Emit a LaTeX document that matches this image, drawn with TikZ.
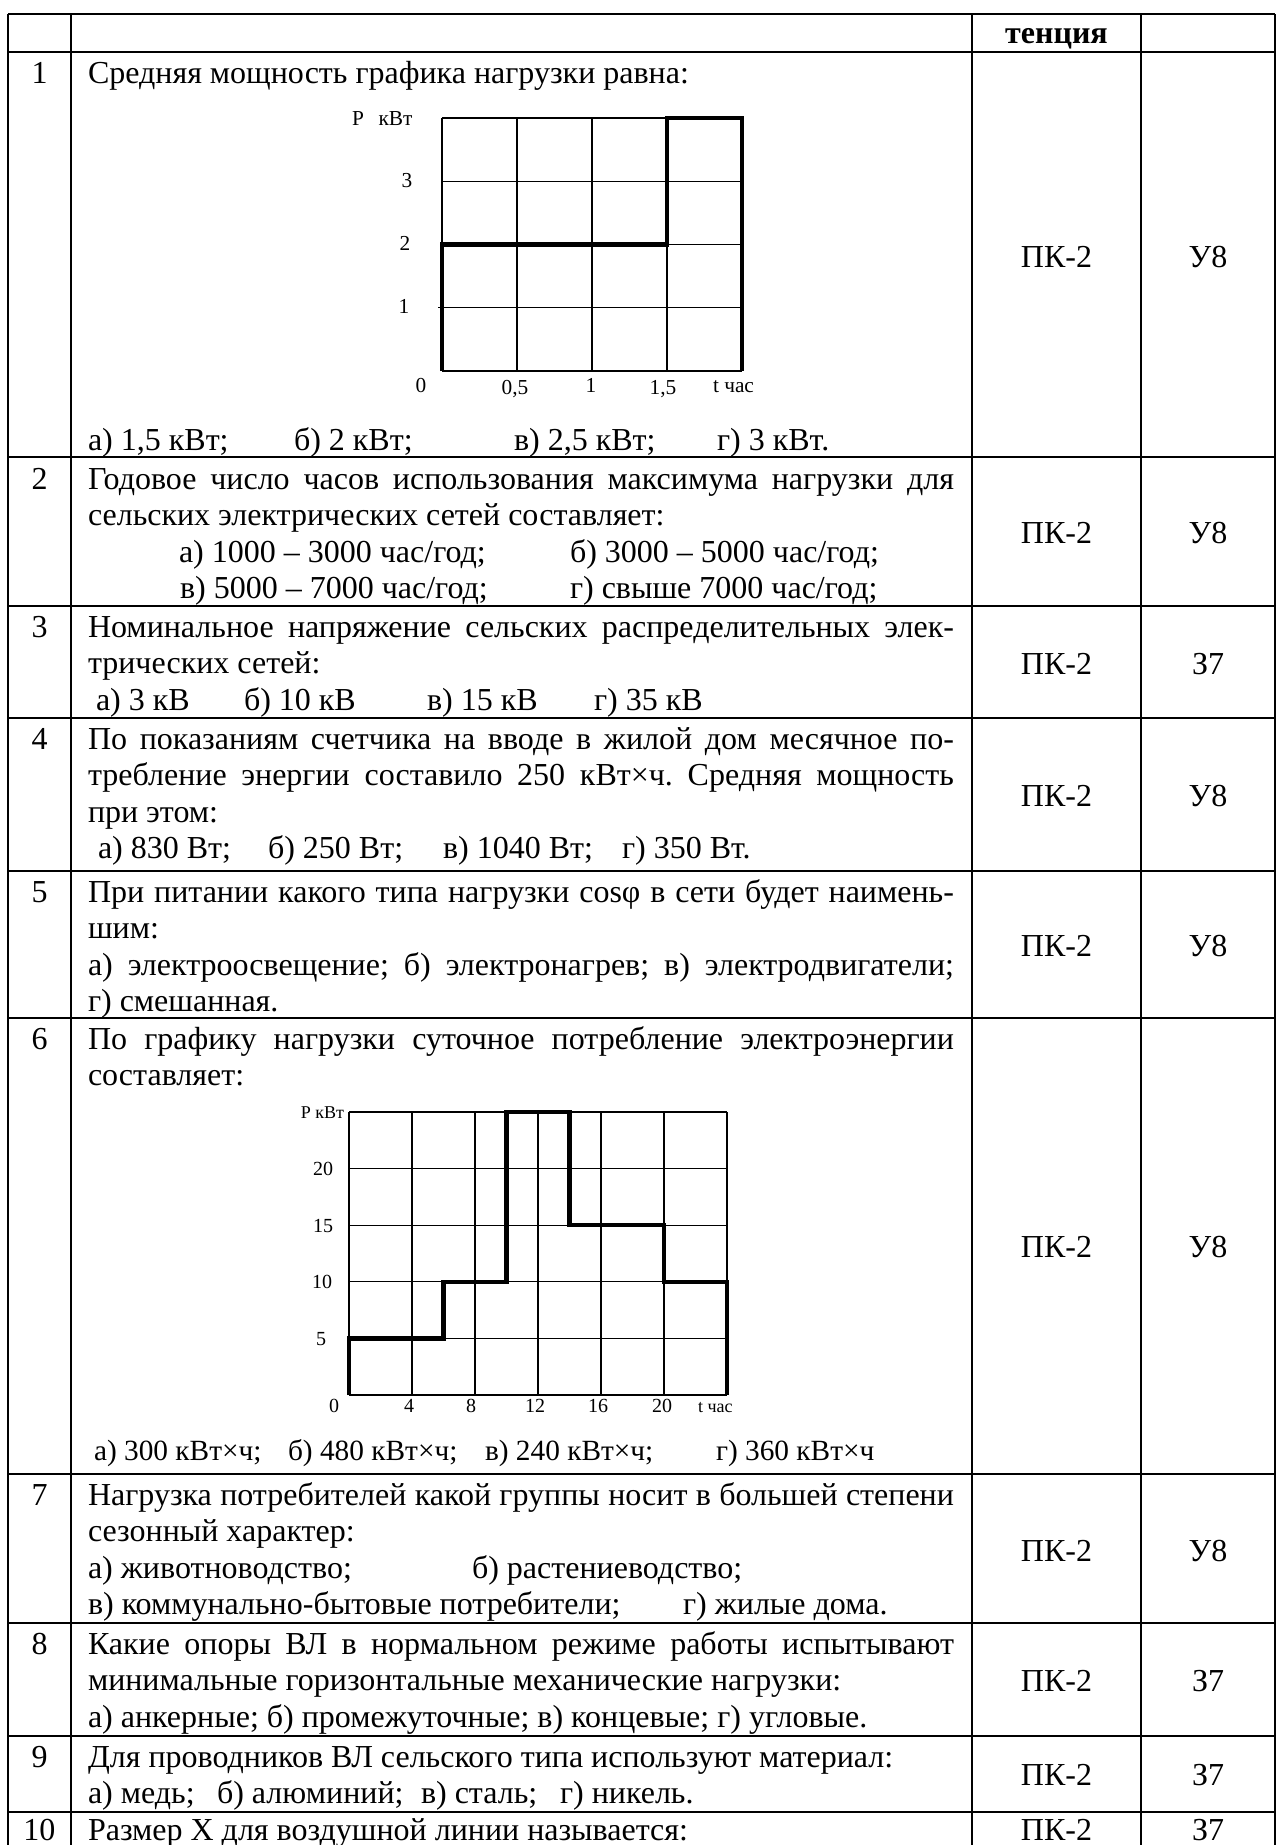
\documentclass[tikz,border=0pt]{standalone}
\usepackage{fontspec}
\setmainfont{Liberation Serif}
\frenchspacing
\newcommand\bodyfont{\fontsize{24}{28}\selectfont}
\newcommand\ansfont{\fontsize{22}{26}\selectfont}
\newcommand\cAfont{\fontsize{16}{18}\selectfont}
\newcommand\cBfont{\fontsize{15}{17}\selectfont}
\newcommand\cBsmall{\fontsize{13.5}{15}\selectfont}
\newcommand\jl[1]{\makebox[649.5pt][s]{#1}}
\begin{document}
\begin{tikzpicture}[x=0.75pt,y=-0.75pt,
  tab/.style={line width=1.5pt},
  gthin/.style={line width=1pt},
  gthick/.style={line width=3.3pt,line join=miter},
  tx/.style={anchor=base west,inner sep=0pt,outer sep=0pt,font=\bodyfont},
  ans/.style={anchor=base west,inner sep=0pt,outer sep=0pt,font=\ansfont},
  cn/.style={anchor=base,inner sep=0pt,outer sep=0pt,font=\bodyfont},
  hd/.style={anchor=base,inner sep=0pt,outer sep=0pt,font=\bodyfont\bfseries},
  la/.style={anchor=base,inner sep=0pt,outer sep=0pt,font=\cAfont},
  lb/.style={anchor=base,inner sep=0pt,outer sep=0pt,font=\cBfont},
  lbs/.style={anchor=base,inner sep=0pt,outer sep=0pt,font=\cBsmall}]
\useasboundingbox (0,0) rectangle (1276,1845);
% ---------- table grid ----------
\foreach \yy in {14,52,457,606,718,871,1018,1474,1623,1736,1812}
  \draw[tab] (8,\yy) -- (1275,\yy);
\foreach \xx in {8,71,972,1141,1275}
  \draw[tab] (\xx,14) -- (\xx,1845);
% ---------- header ----------
\node[hd] (hdr) at (1056.5,43) {тенция};
% ---------- row 1 ----------
\node[cn] (n1) at (39.5,83) {1};
\node[tx] (r1a) at (88,83) {Средняя мощность графика нагрузки равна:};
\foreach \i in {0,...,4} \draw[gthin] ({442+75*\i},118) -- ({442+75*\i},371);
\foreach \j in {0,...,4} \draw[gthin] (442,{118+63.25*\j}) -- (742,{118+63.25*\j});
\draw[gthin] (438,307.75) -- (442,307.75);
\draw[gthick] (442,371) -- (442,244.5) -- (667,244.5) -- (667,118) -- (742,118) -- (742,371);
\node[la,anchor=base west] (c1p) at (352,125) {P\hspace{11pt}кВт};
\node[la] (c1y3) at (407,187) {3};
\node[la] (c1y2) at (405,250) {2};
\node[la] (c1y1) at (404,313) {1};
\node[la] (c1x0) at (421,392) {0};
\node[la] (c1x1) at (515,394) {0,5};
\node[la] (c1x2) at (591,392) {1};
\node[la] (c1x3) at (663,394) {1,5};
\node[la,anchor=base west] (c1t) at (713,392) {t час};
\node[tx] (r1b) at (88,450) {а) 1,5 кВт;};
\node[tx] (r1c) at (294,450) {б) 2 кВт;};
\node[tx] (r1d) at (514,450) {в) 2,5 кВт;};
\node[tx] (r1e) at (717,450) {г) 3 кВт.};
\node[cn] (k1) at (1056.5,267) {ПК-2};
\node[cn] (u1) at (1208,267) {У8};
% ---------- row 2 ----------
\node[cn] (n2) at (39.5,489) {2};
\node[tx] (r2a) at (88,489) {\jl{Годовое число часов использования максимума нагрузки для}};
\node[tx] (r2b) at (88,525.5) {сельских электрических сетей составляет:};
\node[tx] (r2c) at (179,562) {а) 1000 – 3000 час/год;};
\node[tx] (r2d) at (570,562) {б) 3000 – 5000 час/год;};
\node[tx] (r2e) at (180,598.5) {в) 5000 – 7000 час/год;};
\node[tx] (r2f) at (570,598.5) {г) свыше 7000 час/год;};
\node[cn] (k2) at (1056.5,543) {ПК-2};
\node[cn] (u2) at (1208,543) {У8};
% ---------- row 3 ----------
\node[cn] (n3) at (39.5,637) {3};
\node[tx] (r3a) at (88,637) {\jl{Номинальное напряжение сельских распределительных элек-}};
\node[tx] (r3b) at (88,673.5) {трических сетей:};
\node[tx] (r3c) at (96,710) {а) 3 кВ};
\node[tx] (r3d) at (244,710) {б) 10 кВ};
\node[tx] (r3e) at (427,710) {в) 15 кВ};
\node[tx] (r3f) at (594,710) {г) 35 кВ};
\node[cn] (k3) at (1056.5,674) {ПК-2};
\node[cn] (u3) at (1208,674) {З7};
% ---------- row 4 ----------
\node[cn] (n4) at (39.5,749) {4};
\node[tx] (r4a) at (88,749) {\jl{По показаниям счетчика на вводе в жилой дом месячное по-}};
\node[tx] (r4b) at (88,785.5) {\jl{требление энергии составило 250 кВт×ч. Средняя мощность}};
\node[tx] (r4c) at (88,822) {при этом:};
\node[tx] (r4d) at (98,858.5) {а) 830 Вт;};
\node[tx] (r4e) at (268,858.5) {б) 250 Вт;};
\node[tx] (r4f) at (443,858.5) {в) 1040 Вт;};
\node[tx] (r4g) at (622,858.5) {г) 350 Вт.};
\node[cn] (k4) at (1056.5,806) {ПК-2};
\node[cn] (u4) at (1208,806) {У8};
% ---------- row 5 ----------
\node[cn] (n5) at (39.5,902) {5};
\node[tx] (r5a) at (88,902) {\jl{При питании какого типа нагрузки cosφ в сети будет наимень-}};
\node[tx] (r5b) at (88,938.5) {шим:};
\node[tx] (r5c) at (88,975) {\jl{а) электроосвещение; б) электронагрев; в) электродвигатели;}};
\node[tx] (r5d) at (88,1011.5) {г) смешанная.};
\node[cn] (k5) at (1056.5,956) {ПК-2};
\node[cn] (u5) at (1208,956) {У8};
% ---------- row 6 ----------
\node[cn] (n6) at (39.5,1049) {6};
\node[tx] (r6a) at (88,1049) {\jl{По графику нагрузки суточное потребление электроэнергии}};
\node[tx] (r6b) at (88,1085.5) {составляет:};
\foreach \i in {0,...,6} \draw[gthin] ({349+63*\i},1112) -- ({349+63*\i},1395);
\foreach \j in {0,...,5} \draw[gthin] (349,{1112+56.6*\j}) -- (727,{1112+56.6*\j});
\draw[gthick] (349,1395) -- (349,1338.4) -- (443.5,1338.4) -- (443.5,1281.8) -- (506.5,1281.8)
  -- (506.5,1112) -- (569.5,1112) -- (569.5,1225.2) -- (664,1225.2) -- (664,1281.8)
  -- (727,1281.8) -- (727,1395);
\node[lbs,anchor=base east] (c2p) at (344,1118) {P кВт};
\node[lb] (c2y20) at (323,1175) {20};
\node[lb] (c2y15) at (323,1232) {15};
\node[lb] (c2y10) at (322,1288) {10};
\node[lb] (c2y5) at (321,1345) {5};
\node[lb] (c2x0) at (334,1412) {0};
\node[lb] (c2x4) at (409,1412) {4};
\node[lb] (c2x8) at (471,1412) {8};
\node[lb] (c2x12) at (535,1412) {12};
\node[lb] (c2x16) at (598,1412) {16};
\node[lb] (c2x20) at (662,1412) {20};
\node[lbs,anchor=base west] (c2t) at (698,1412) {t час};
\node[ans] (r6c) at (94,1460) {а) 300 кВт×ч;};
\node[ans] (r6d) at (288,1460) {б) 480 кВт×ч;};
\node[ans] (r6e) at (485,1460) {в) 240 кВт×ч;};
\node[ans] (r6f) at (716,1460) {г) 360 кВт×ч};
\node[cn] (k6) at (1056.5,1257) {ПК-2};
\node[cn] (u6) at (1208,1257) {У8};
% ---------- row 7 ----------
\node[cn] (n7) at (39.5,1505) {7};
\node[tx] (r7a) at (88,1505) {\jl{Нагрузка потребителей какой группы носит в большей степени}};
\node[tx] (r7b) at (88,1541.5) {сезонный характер:};
\node[tx] (r7c) at (88,1578) {а) животноводство;};
\node[tx] (r7d) at (472,1578) {б) растениеводство;};
\node[tx] (r7e) at (88,1614.5) {в) коммунально-бытовые потребители;};
\node[tx] (r7f) at (683,1614.5) {г) жилые дома.};
\node[cn] (k7) at (1056.5,1561) {ПК-2};
\node[cn] (u7) at (1208,1561) {У8};
% ---------- row 8 ----------
\node[cn] (n8) at (39.5,1654) {8};
\node[tx] (r8a) at (88,1654) {\jl{Какие опоры ВЛ в нормальном режиме работы испытывают}};
\node[tx] (r8b) at (88,1690.5) {минимальные горизонтальные механические нагрузки:};
\node[tx] (r8c) at (88,1727) {а) анкерные; б) промежуточные; в) концевые; г) угловые.};
\node[cn] (k8) at (1056.5,1691) {ПК-2};
\node[cn] (u8) at (1208,1691) {З7};
% ---------- row 9 ----------
\node[cn] (n9) at (39.5,1767) {9};
\node[tx] (r9a) at (88,1767) {Для проводников ВЛ сельского типа используют материал:};
\node[tx] (r9b) at (88,1803.5) {а) медь;};
\node[tx] (r9c) at (217,1803.5) {б) алюминий;};
\node[tx] (r9d) at (421,1803.5) {в) сталь;};
\node[tx] (r9e) at (560,1803.5) {г) никель.};
\node[cn] (k9) at (1056.5,1785) {ПК-2};
\node[cn] (u9) at (1208,1785) {З7};
% ---------- row 10 ----------
\node[cn] (n10) at (39.5,1840) {10};
\node[tx] (r10a) at (88,1840) {Размер Х для воздушной линии называется:};
\node[cn] (k10) at (1056.5,1840) {ПК-2};
\node[cn] (u10) at (1208,1840) {З7};
\end{tikzpicture}
\end{document}
